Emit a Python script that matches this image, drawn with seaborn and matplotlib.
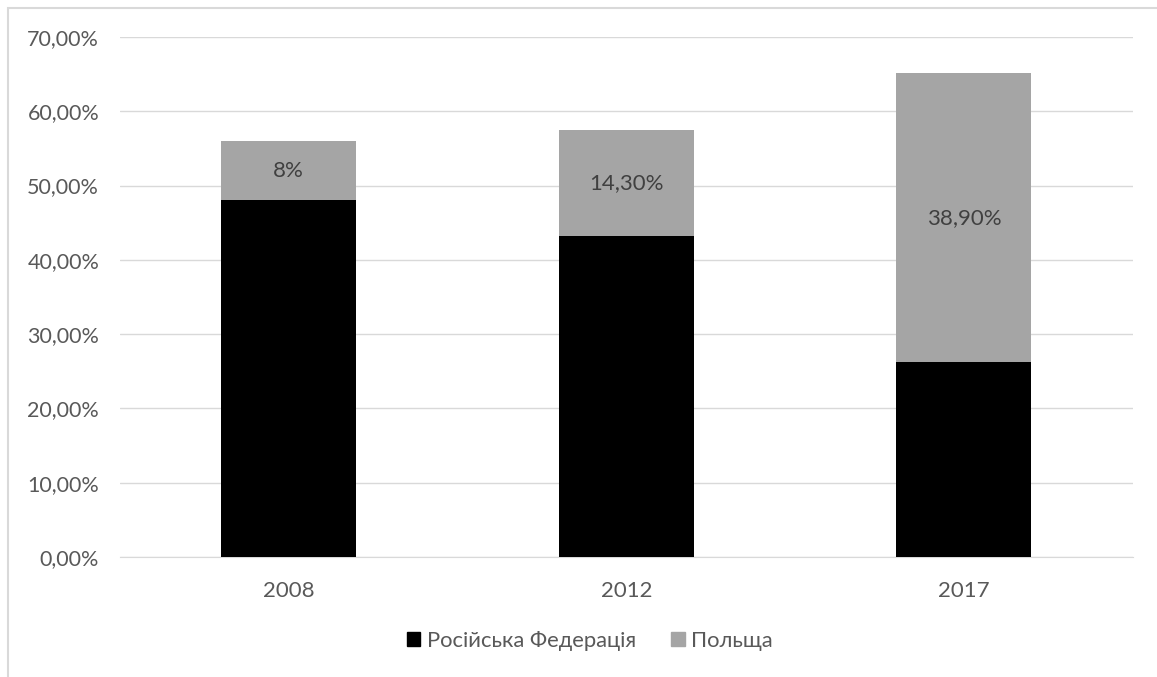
import pandas as pd
import seaborn as sns
import matplotlib.pyplot as plt
from matplotlib.patches import Rectangle, Patch
from matplotlib.ticker import FuncFormatter

# data
years = ["2008", "2012", "2017"]
russia = [48.0, 43.2, 26.2]
poland = [8.0, 14.3, 38.9]
poland_labels = ["8%", "14,30%", "38,90%"]

df = pd.DataFrame({"year": years, "russia": russia, "poland": poland})
df["total"] = df["russia"] + df["poland"]

sns.set_style("white")
plt.rcParams["font.family"] = ["Lato", "DejaVu Sans"]
text_col = "#595959"
grid_col = "#d9d9d9"

fig = plt.figure(figsize=(11.57, 6.77), dpi=100)
ax = fig.add_axes([0.1037, 0.1773, 0.8753, 0.768])

# grey first (full stack height), black on top of it
sns.barplot(data=df, x="year", y="total", color="#a5a5a5", width=0.4,
            saturation=1, linewidth=0, ax=ax, zorder=3)
sns.barplot(data=df, x="year", y="russia", color="#000000", width=0.4,
            saturation=1, linewidth=0, ax=ax, zorder=3)

for i, (r, p, lab) in enumerate(zip(russia, poland, poland_labels)):
    ax.text(i, r + p / 2, lab, ha="center", va="center", fontsize=16,
            color="#404040", zorder=4)

ax.set_ylim(0, 70)
ax.set_xlim(-0.5, 2.5)
ax.set_yticks(range(0, 71, 10))
ax.yaxis.set_major_formatter(FuncFormatter(lambda v, _: f"{v:.2f}%".replace(".", ",")))
ax.grid(axis="y", color=grid_col, linewidth=1, zorder=0)
ax.set_xlabel("")
ax.set_ylabel("")
for s in ["top", "right", "left"]:
    ax.spines[s].set_visible(False)
ax.spines["bottom"].set_color(grid_col)
ax.tick_params(axis="both", length=0, labelcolor=text_col)
ax.tick_params(axis="y", pad=15, labelsize=15.5)
ax.tick_params(axis="x", pad=17, labelsize=16)

handles = [Patch(color="#000000", label="Російська Федерація"),
           Patch(color="#a5a5a5", label="Польща")]
fig.legend(handles=handles, loc="center", bbox_to_anchor=(0.51, 0.053), ncol=2,
           frameon=False, fontsize=15.8, handlelength=0.6, handleheight=0.6,
           handletextpad=0.3, columnspacing=1.6, labelcolor=text_col)

# outer chart border (only top/left visible in the crop)
fig.patches.append(Rectangle((8 / 1157, -0.05), 1.2, 1 - 8 / 677 + 0.05,
                             transform=fig.transFigure, fill=False,
                             edgecolor=grid_col, linewidth=1.5))

fig.savefig("out.png", dpi=100)
